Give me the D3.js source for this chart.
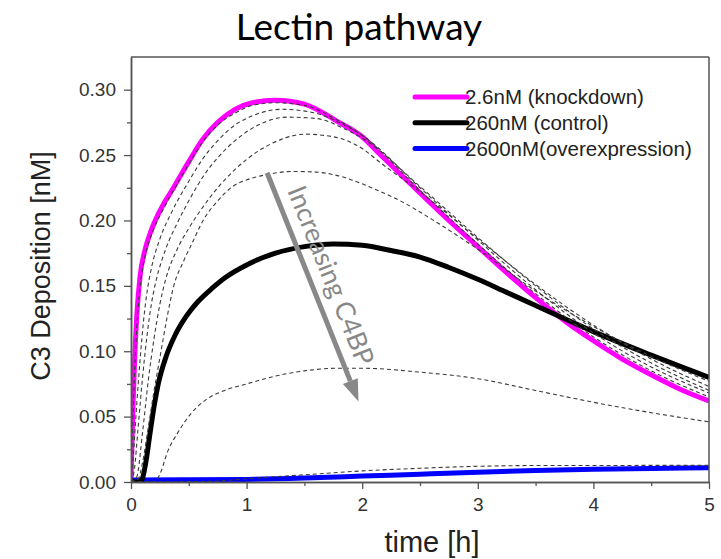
<!DOCTYPE html>
<html>
<head>
<meta charset="utf-8">
<script src="https://cdn.jsdelivr.net/npm/d3@7"></script>
<style>
body { margin: 0; background: #fff; }
svg { display: block; }
</style>
</head>
<body>
<svg id="chart" width="721" height="559"></svg>
<script>
'use strict';

// series values, [time h, C3 nM]
var knockdown = [[0,0],[0.005,0.018],[0.01,0.035],[0.02,0.065],[0.03,0.09],[0.05,0.127],[0.078,0.157],[0.12,0.177],[0.165,0.19],[0.2,0.198],[0.29,0.214],[0.34,0.221],[0.4,0.23],[0.5,0.245],[0.62,0.262],[0.75,0.275],[0.9,0.285],[1.05,0.29],[1.25,0.292],[1.5,0.289],[1.78,0.276],[2.0,0.264],[2.16,0.25],[2.5,0.221],[2.75,0.2],[3.0,0.18],[3.2,0.164],[3.5,0.141],[3.77,0.122],[4.0,0.108],[4.25,0.094],[4.5,0.082],[4.75,0.071],[5.0,0.062]];
var control = [[0,0],[0.08,0],[0.1,0.003],[0.13,0.016],[0.165,0.0375],[0.2,0.058],[0.237,0.0755],[0.3,0.095],[0.38,0.112],[0.48,0.127],[0.58,0.138],[0.7,0.148],[0.81,0.156],[1.0,0.166],[1.25,0.175],[1.5,0.18],[1.75,0.182],[2.0,0.181],[2.25,0.177],[2.5,0.172],[2.75,0.164],[3.0,0.155],[3.25,0.145],[3.5,0.135],[3.77,0.124],[4.0,0.115],[4.5,0.097],[5.0,0.08]];
var overexpression = [[0,0.0015],[1,0.002],[1.5,0.003],[2,0.0045],[2.5,0.006],[3,0.0075],[3.5,0.0088],[4,0.0098],[4.5,0.0104],[5,0.0109]];

// intermediate C4BP levels (dashed)
var dash1 = [[0,0],[0.01,0.03],[0.02,0.058],[0.03,0.082],[0.05,0.118],[0.08,0.15],[0.12,0.172],[0.165,0.186],[0.2,0.194],[0.3,0.212],[0.4,0.228],[0.5,0.243],[0.62,0.26],[0.75,0.273],[0.9,0.282],[1.05,0.288],[1.25,0.29],[1.5,0.288],[1.78,0.277],[2.0,0.265],[2.5,0.223],[3.0,0.182],[3.5,0.144],[4.0,0.111],[4.5,0.085],[5.0,0.065]];
var dash2 = [[0,0],[0.02,0.02],[0.05,0.06],[0.08,0.095],[0.107,0.122],[0.14,0.146],[0.18,0.165],[0.25,0.186],[0.35,0.206],[0.5,0.23],[0.62,0.247],[0.75,0.261],[0.9,0.273],[1.05,0.28],[1.3,0.285],[1.55,0.283],[1.8,0.275],[2.0,0.265],[2.5,0.225],[3.0,0.185],[3.5,0.147],[4.0,0.114],[4.5,0.088],[5.0,0.068]];
var dash3 = [[0,0],[0.03,0.01],[0.06,0.04],[0.1,0.08],[0.14,0.113],[0.18,0.138],[0.22,0.155],[0.3,0.178],[0.4,0.198],[0.5,0.215],[0.62,0.233],[0.75,0.248],[0.9,0.261],[1.1,0.273],[1.35,0.279],[1.6,0.278],[1.85,0.27],[2.0,0.263],[2.5,0.226],[3.0,0.187],[3.5,0.15],[4.0,0.117],[4.5,0.091],[5.0,0.07]];
var dash4 = [[0,0],[0.05,0.004],[0.1,0.038],[0.15,0.078],[0.2,0.11],[0.25,0.136],[0.3,0.155],[0.4,0.178],[0.5,0.194],[0.62,0.21],[0.75,0.225],[0.9,0.239],[1.1,0.253],[1.3,0.262],[1.5,0.266],[1.75,0.264],[2.0,0.255],[2.16,0.244],[2.5,0.222],[3.0,0.186],[3.5,0.151],[4.0,0.12],[4.5,0.094],[5.0,0.073]];
var dash5 = [[0,0],[0.06,0.002],[0.1,0.015],[0.15,0.042],[0.2,0.07],[0.25,0.095],[0.31,0.125],[0.37,0.15],[0.45,0.168],[0.52,0.181],[0.63,0.201],[0.75,0.215],[0.88,0.226],[1.0,0.231],[1.17,0.235],[1.4,0.2375],[1.6,0.237],[1.8,0.234],[2.0,0.228],[2.16,0.222],[2.33,0.215],[2.6,0.201],[3.0,0.178],[3.5,0.146],[4.0,0.119],[4.5,0.096],[5.0,0.077]];
var dash6 = [[0,0],[0.2,0],[0.25,0.006],[0.32,0.024],[0.4,0.037],[0.525,0.053],[0.65,0.063],[0.81,0.07],[1.0,0.075],[1.25,0.081],[1.5,0.085],[1.8,0.087],[2.0,0.087],[2.5,0.084],[3.0,0.079],[3.5,0.07],[4.0,0.061],[4.5,0.053],[5.0,0.046]];
var dash7 = [[0,0],[0.7,0.0005],[1.0,0.0025],[1.5,0.0055],[2.0,0.0085],[2.5,0.0105],[3.0,0.012],[3.5,0.0126],[5.0,0.0127]];

var legendLabels = ['2.6nM (knockdown)', '260nM (control)', '2600nM(overexpression)'];
var legendColors = ['#ff00ff', '#000000', '#0000ff'];

var xTicks = [0, 1, 2, 3, 4, 5];
var xMinor = [0.5, 1.5, 2.5, 3.5, 4.5];
var yTicks = [0, 0.05, 0.10, 0.15, 0.20, 0.25, 0.30];
var yMinor = [0.025, 0.075, 0.125, 0.175, 0.225, 0.275];

// annotation arrow, in data units
var arrowFrom = [1.177, 0.2365];
var arrowTo = [1.968, 0.0615];

var svg = d3.select('#chart');
var plotLeft = 131, plotRight = 709, plotTop = 57, plotBottom = 482;

var x = d3.scaleLinear().domain([0, 5]).range([plotLeft, plotRight]);
var y = d3.scaleLinear().domain([0, 0.325]).range([plotBottom, plotTop]);

svg.append('defs').append('clipPath').attr('id', 'plotclip')
	.append('rect').attr('x', plotLeft).attr('y', plotTop - 3).attr('width', plotRight - plotLeft).attr('height', plotBottom - plotTop + 3);

// title
svg.append('text')
	.attr('x', 359).attr('y', 40)
	.attr('text-anchor', 'middle')
	.style('font-family', 'Lato, "Open Sans", sans-serif')
	.style('font-size', '37px')
	.attr('fill', '#000')
	.text('Lectin pathway');

var line = d3.line()
	.x(d => x(d[0]))
	.y(d => y(d[1]))
	.curve(d3.curveMonotoneX);

var plot = svg.append('g').attr('clip-path', 'url(#plotclip)');

var thick = [
	{ data: knockdown, color: '#ff00ff' },
	{ data: overexpression, color: '#0000ff' },
	{ data: control, color: '#000000' }
];

plot.selectAll('path.thick')
	.data(thick)
	.join('path')
	.attr('class', 'thick')
	.attr('d', d => line(d.data))
	.attr('fill', 'none')
	.attr('stroke', d => d.color)
	.attr('stroke-width', 5)
	.attr('stroke-linejoin', 'round');

plot.selectAll('path.dash')
	.data([dash1, dash2, dash3, dash4, dash5, dash6, dash7])
	.join('path')
	.attr('class', 'dash')
	.attr('d', d => line(d))
	.attr('fill', 'none')
	.attr('stroke', '#3a3a3a')
	.attr('stroke-width', 1.1)
	.attr('stroke-dasharray', '4,3');

// frame
var frameColor = '#555';
svg.append('line').attr('x1', plotLeft).attr('x2', plotRight).attr('y1', plotTop).attr('y2', plotTop)
	.attr('stroke', frameColor).attr('stroke-width', 1.5);
svg.append('line').attr('x1', plotRight).attr('x2', plotRight).attr('y1', plotTop).attr('y2', plotBottom)
	.attr('stroke', frameColor).attr('stroke-width', 1.5);

function styleAxis(g)
{
	g.select('.domain').attr('stroke', frameColor).attr('stroke-width', 1.5);
	g.selectAll('.tick line').attr('stroke', frameColor).attr('stroke-width', 1.3);
	g.selectAll('.tick text')
		.attr('fill', '#333')
		.style('font-family', '"Liberation Sans", Arial, sans-serif')
		.style('font-size', '19px');
}

svg.append('g')
	.attr('transform', `translate(${plotLeft},0)`)
	.call(d3.axisLeft(y).tickValues(yTicks).tickFormat(d3.format('.2f')).tickSize(7).tickSizeOuter(0).tickPadding(8))
	.call(styleAxis);

svg.append('g')
	.attr('transform', `translate(${plotLeft},0)`)
	.call(d3.axisLeft(y).tickValues(yMinor).tickFormat('').tickSize(4).tickSizeOuter(0))
	.call(styleAxis);

svg.append('g')
	.attr('transform', `translate(0,${plotBottom})`)
	.call(d3.axisBottom(x).tickValues(xTicks).tickFormat(d3.format('d')).tickSize(7).tickSizeOuter(0).tickPadding(9))
	.call(styleAxis);

svg.append('g')
	.attr('transform', `translate(0,${plotBottom})`)
	.call(d3.axisBottom(x).tickValues(xMinor).tickFormat('').tickSize(4).tickSizeOuter(0))
	.call(styleAxis);

// axis titles
svg.append('text')
	.attr('transform', 'translate(50,266) rotate(-90)')
	.attr('text-anchor', 'middle')
	.style('font-family', '"Liberation Sans", Arial, sans-serif')
	.style('font-size', '27px')
	.attr('fill', '#222')
	.text('C3 Deposition [nM]');

svg.append('text')
	.attr('x', 432).attr('y', 552)
	.attr('text-anchor', 'middle')
	.style('font-family', '"Liberation Sans", Arial, sans-serif')
	.style('font-size', '29px')
	.attr('fill', '#222')
	.text('time [h]');

// legend
var legendItem = svg.append('g').selectAll('g')
	.data(legendLabels)
	.join('g')
	.attr('transform', (d, i) => `translate(415,${97 + i * 25.7})`);

legendItem.append('line')
	.attr('x1', 0).attr('x2', 52)
	.attr('stroke', (d, i) => legendColors[i])
	.attr('stroke-width', 5)
	.attr('stroke-linecap', 'round');

legendItem.append('text')
	.attr('x', 50).attr('dy', '0.36em')
	.style('font-family', '"Liberation Sans", Arial, sans-serif')
	.style('font-size', '20.5px')
	.attr('fill', '#222')
	.text(d => d);

// arrow "Increasing C4BP"
var ax0 = x(arrowFrom[0]), ay0 = y(arrowFrom[1]);
var ax1 = x(arrowTo[0]), ay1 = y(arrowTo[1]);
var len = Math.hypot(ax1 - ax0, ay1 - ay0);
var ux = (ax1 - ax0) / len, uy = (ay1 - ay0) / len;
var headLen = 22, headHalf = 8;
var bx = ax1 - ux * headLen, by = ay1 - uy * headLen;

svg.append('line')
	.attr('x1', ax0).attr('y1', ay0).attr('x2', bx).attr('y2', by)
	.attr('stroke', '#888').attr('stroke-width', 5);

svg.append('path')
	.attr('d', `M${ax1},${ay1}L${bx - uy * headHalf},${by + ux * headHalf}L${bx + uy * headHalf},${by - ux * headHalf}Z`)
	.attr('fill', '#888');

var angle = Math.atan2(uy, ux) * 180 / Math.PI;
var tx = ax0 + ux * 24 + uy * 12, ty = ay0 + uy * 24 - ux * 12;
svg.append('text')
	.attr('transform', `translate(${tx},${ty}) rotate(${angle})`)
	.style('font-family', 'Lato, "Open Sans", sans-serif')
	.style('font-size', '26.5px')
	.attr('fill', '#888')
	.text('Increasing C4BP');
</script>
</body>
</html>
